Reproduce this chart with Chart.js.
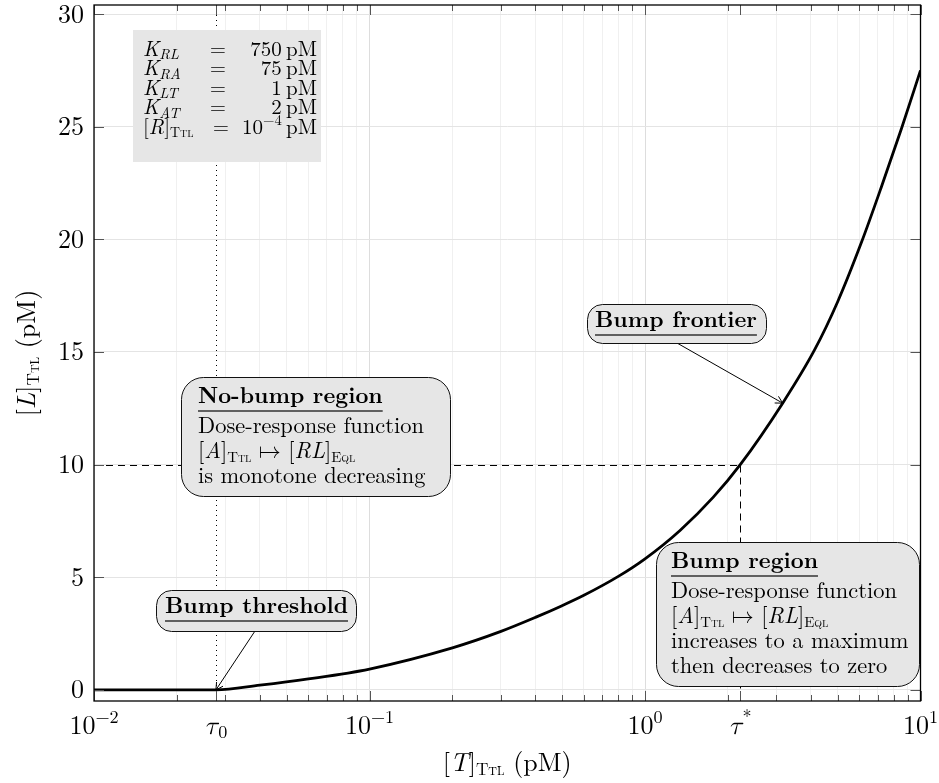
<!DOCTYPE html>
<html>
<head>
<meta charset="utf-8">
<script src="https://cdn.jsdelivr.net/npm/chart.js@4.4.1/dist/chart.umd.min.js"></script>
<style>
  html, body { margin: 0; padding: 0; background: #fff; }
  #wrap { width: 939px; height: 783px; }
</style>
</head>
<body>
<div id="wrap"><canvas id="chart" width="939" height="783"></canvas></div>
<script>
// values
const tValues = [0.01, 0.0277, 0.04, 0.06, 0.1, 0.2, 0.3, 0.4, 0.5, 0.6, 0.8, 1.0, 1.34, 1.77, 2.217, 3.16, 4.12, 5.0, 6.12, 7.2, 8.55, 10];
const lValues = [0, 0, 0.21, 0.49, 0.93, 1.87, 2.6, 3.22, 3.74, 4.2, 5.04, 5.82, 7.08, 8.56, 10, 12.73, 15.08, 17.22, 19.9, 22.3, 24.95, 27.5];

const tau0 = 0.0277;
const tauStar = 2.217;
const lRef = 10;
const frontierPoint = { x: 3.16, y: 12.73 };

const xGrid = [0.01, 0.02, 0.03, 0.04, 0.05, 0.06, 0.07, 0.08, 0.09,
               0.1, 0.2, 0.3, 0.4, 0.5, 0.6, 0.7, 0.8, 0.9,
               1, 2, 3, 4, 5, 6, 7, 8, 9, 10];
const xTickValues = [0.01, tau0, 0.1, 1, tauStar, 10];
const xTickLabels = ['10^\u22122', '\u03c4_0', '10^\u22121', '10^0', '\u03c4^*', '10^1'];
const yTicks = [0, 5, 10, 15, 20, 25, 30];

const paramNames = [['K', 'RL'], ['K', 'RA'], ['K', 'LT'], ['K', 'AT']];
const paramValues = ['750', '75', '1', '2'];

const SERIF = '"Latin Modern Roman", "Latin Modern Math", "Liberation Serif", serif';
const FS_TICK = 26, FS_TEXT = 22.5, FS_PARAM = 21;
let SXN = 1, SXB = 1;

function fontFor(p, fs) {
  const size = (p.sub || p.sup) ? fs * (p.sc ? 0.66 : 0.7) : fs;
  return (p.it ? 'italic ' : '') + (p.sc ? 'small-caps ' : '') + (p.b ? 'bold ' : '') + size.toFixed(1) + 'px ' + SERIF;
}
function richWidth(ctx, parts, fs, sx) {
  let w = 0;
  parts.forEach(p => { ctx.font = fontFor(p, fs); w += ctx.measureText(p.t).width; });
  return w * sx;
}
function drawRich(ctx, x, y, parts, fs, sx, align) {
  const w = richWidth(ctx, parts, fs, sx);
  const x0 = align === 'center' ? x - w / 2 : align === 'right' ? x - w : x;
  ctx.save();
  ctx.translate(x0, y);
  ctx.scale(sx, 1);
  ctx.textAlign = 'left';
  ctx.textBaseline = 'alphabetic';
  ctx.fillStyle = '#000';
  let px = 0;
  parts.forEach(p => {
    ctx.font = fontFor(p, fs);
    const dy = p.sub ? fs * 0.16 : p.sup ? -fs * 0.42 : 0;
    ctx.fillText(p.t, px, dy);
    px += ctx.measureText(p.t).width;
  });
  ctx.restore();
  return w;
}
// '10^-2' / 'tau_0' style label -> parts
function texParts(s) {
  const m = s.match(/^([^_^]+)([_^])(.+)$/);
  if (!m) return [{ t: s }];
  const greek = /[\u0370-\u03ff]/.test(m[1]);
  return [{ t: m[1], it: greek }, { t: m[3], sub: m[2] === '_', sup: m[2] === '^' }];
}
const ttl = { t: 'Ttl', sub: true, sc: true };
const mapsTo = [{ t: '[' }, { t: 'A', it: true }, { t: ']' }, ttl, { t: ' \u21a6 [' }, { t: 'RL', it: true }, { t: ']' }, { t: 'Eql', sub: true, sc: true }];

const notes = [
  { box: [181, 377, 450, 496], r: 22, title: 'No-bump region', tx: 198,
    lines: [[{ t: 'Dose-response function' }], mapsTo, [{ t: 'is monotone decreasing' }]] },
  { box: [656, 542, 919, 686], r: 22, title: 'Bump region', tx: 671,
    lines: [[{ t: 'Dose-response function' }], mapsTo, [{ t: 'increases to a maximum' }], [{ t: 'then decreases to zero' }]] },
  { box: [156, 590, 356, 631], r: 15, title: 'Bump threshold', tx: 165, from: [255, 631], to: { x: tau0, y: 0 } },
  { box: [587, 304, 766, 343], r: 15, title: 'Bump frontier', tx: 595, from: [677, 343], to: frontierPoint }
];

function roundRect(ctx, x0, y0, x1, y1, r) {
  ctx.beginPath();
  ctx.moveTo(x0 + r, y0);
  ctx.lineTo(x1 - r, y0);
  ctx.arcTo(x1, y0, x1, y0 + r, r);
  ctx.lineTo(x1, y1 - r);
  ctx.arcTo(x1, y1, x1 - r, y1, r);
  ctx.lineTo(x0 + r, y1);
  ctx.arcTo(x0, y1, x0, y1 - r, r);
  ctx.lineTo(x0, y0 + r);
  ctx.arcTo(x0, y0, x0 + r, y0, r);
  ctx.closePath();
}
function arrow(ctx, x0, y0, x1, y1) {
  const a = Math.atan2(y1 - y0, x1 - x0), len = 8, sp = 0.5;
  ctx.save();
  ctx.strokeStyle = '#000';
  ctx.lineWidth = 1;
  ctx.beginPath();
  ctx.moveTo(x0, y0); ctx.lineTo(x1, y1);
  ctx.moveTo(x1 - len * Math.cos(a - sp), y1 - len * Math.sin(a - sp));
  ctx.lineTo(x1, y1);
  ctx.lineTo(x1 - len * Math.cos(a + sp), y1 - len * Math.sin(a + sp));
  ctx.stroke();
  ctx.restore();
}
const isDecade = v => Math.abs(Math.log10(v) - Math.round(Math.log10(v))) < 1e-9;

const decor = {
  id: 'decor',
  beforeDatasetsDraw(chart) {
    const { ctx, chartArea: a, scales: { x, y } } = chart;
    ctx.save();
    ctx.strokeStyle = '#000';
    ctx.lineWidth = 1;
    // dotted line at tau0
    ctx.setLineDash([1, 4]);
    const x0 = Math.round(x.getPixelForValue(tau0)) + 0.5;
    ctx.beginPath();
    ctx.moveTo(x0, a.top);
    ctx.lineTo(x0, a.bottom);
    ctx.stroke();
    // dashed guides to (tau*, 10)
    ctx.setLineDash([7, 5]);
    const xs = Math.round(x.getPixelForValue(tauStar)) + 0.5, yr = Math.round(y.getPixelForValue(lRef)) + 0.5;
    ctx.beginPath();
    ctx.moveTo(a.left, yr); ctx.lineTo(xs, yr);
    ctx.moveTo(xs, yr); ctx.lineTo(xs, a.bottom);
    ctx.stroke();
    ctx.restore();
  },
  afterDraw(chart) {
    const { ctx, chartArea: a, scales: { x, y } } = chart;
    ctx.font = FS_TEXT + 'px ' + SERIF;
    SXN = 226 / ctx.measureText('Dose-response function').width;
    ctx.font = 'bold ' + FS_TEXT + 'px ' + SERIF;
    SXB = 183 / ctx.measureText('Bump threshold').width;

    ctx.save();
    // tick marks, pointing inwards
    ctx.strokeStyle = '#555';
    ctx.lineWidth = 1;
    ctx.beginPath();
    xGrid.concat([tau0, tauStar]).forEach(v => {
      const px = Math.round(x.getPixelForValue(v)) + 0.5;
      const len = (isDecade(v) || v === tau0 || v === tauStar) ? 10 : 6;
      ctx.moveTo(px, a.bottom); ctx.lineTo(px, a.bottom - len);
      ctx.moveTo(px, a.top); ctx.lineTo(px, a.top + len);
    });
    yTicks.forEach(v => {
      const py = Math.round(y.getPixelForValue(v)) + 0.5;
      ctx.moveTo(a.left, py); ctx.lineTo(a.left + 10, py);
      ctx.moveTo(a.right, py); ctx.lineTo(a.right - 10, py);
    });
    ctx.stroke();
    // frame
    ctx.strokeStyle = '#000';
    ctx.lineWidth = 1.3;
    ctx.strokeRect(a.left, a.top, a.right - a.left, a.bottom - a.top);
    ctx.restore();

    // tick labels
    xTickValues.forEach((v, i) => {
      drawRich(ctx, x.getPixelForValue(v), a.bottom + 33, texParts(xTickLabels[i]), FS_TICK, 1, 'center');
    });
    yTicks.forEach(v => {
      drawRich(ctx, a.left - 10, y.getPixelForValue(v) + 8.5, [{ t: String(v) }], FS_TICK, 1, 'right');
    });
    // axis titles
    drawRich(ctx, (a.left + a.right) / 2, 771, [{ t: '[' }, { t: 'T', it: true }, { t: ']' }, ttl, { t: ' (pM)' }], FS_TICK, 1, 'center');
    ctx.save();
    ctx.translate(35, (a.top + a.bottom) / 2);
    ctx.rotate(-Math.PI / 2);
    drawRich(ctx, 0, 0, [{ t: '[' }, { t: 'L', it: true }, { t: ']' }, ttl, { t: ' (pM)' }], FS_TICK, 1, 'center');
    ctx.restore();

    // parameter box
    ctx.fillStyle = '#e6e6e6';
    ctx.fillRect(133, 30, 188, 132);
    paramNames.forEach((n, i) => {
      const by = 56 + 19.4 * i;
      drawRich(ctx, 143, by, [{ t: n[0], it: true }, { t: n[1], it: true, sub: true }], FS_PARAM, 1, 'left');
      drawRich(ctx, 218, by, [{ t: '=' }], FS_PARAM, 1, 'center');
      drawRich(ctx, 317, by, [{ t: paramValues[i] + '\u2009pM' }], FS_PARAM, 1, 'right');
    });
    const by5 = 56 + 19.4 * 4;
    drawRich(ctx, 143, by5, [{ t: '[' }, { t: 'R', it: true }, { t: ']' }, ttl], FS_PARAM, 1, 'left');
    drawRich(ctx, 221, by5, [{ t: '=' }], FS_PARAM, 1, 'center');
    drawRich(ctx, 317, by5, [{ t: '10' }, { t: '\u22124', sup: true }, { t: '\u2009pM' }], FS_PARAM, 1, 'right');

    // annotation boxes
    notes.forEach(n => {
      const [x0, y0, x1, y1] = n.box;
      if (n.from) arrow(ctx, n.from[0], n.from[1], x.getPixelForValue(n.to.x), y.getPixelForValue(n.to.y));
      ctx.save();
      roundRect(ctx, x0 + 0.5, y0 + 0.5, x1 + 0.5, y1 + 0.5, n.r);
      ctx.fillStyle = '#e6e6e6';
      ctx.fill();
      ctx.strokeStyle = '#111';
      ctx.lineWidth = 1;
      ctx.stroke();
      ctx.restore();
      const multi = !!n.lines;
      const tb = y0 + (multi ? 26 : 23);
      const w = drawRich(ctx, n.tx, tb, [{ t: n.title, b: true }], FS_TEXT, SXB, 'left');
      ctx.save();
      ctx.strokeStyle = '#333';
      ctx.lineWidth = 1.6;
      ctx.beginPath();
      ctx.moveTo(n.tx, tb + 8); ctx.lineTo(n.tx + w, tb + 8);
      ctx.stroke();
      ctx.restore();
      if (multi) {
        n.lines.forEach((ln, i) => drawRich(ctx, n.tx, y0 + 56 + 25 * i, ln, FS_TEXT, SXN, 'left'));
      }
    });
  }
};

function build() {
  new Chart(document.getElementById('chart'), {
    type: 'line',
    data: {
      datasets: [{
        data: tValues.map((t, i) => ({ x: t, y: lValues[i] })),
        borderColor: '#000',
        borderWidth: 2.8,
        pointRadius: 0,
        fill: false,
        cubicInterpolationMode: 'monotone'
      }]
    },
    options: {
      responsive: false,
      animation: false,
      layout: { padding: { left: 94, right: 18.5, top: 5, bottom: 82 } },
      plugins: { legend: { display: false }, tooltip: { enabled: false } },
      scales: {
        x: {
          type: 'logarithmic',
          min: 0.01,
          max: 10,
          afterBuildTicks: s => { s.ticks = xGrid.map(v => ({ value: v })); },
          afterFit: s => { s.height = 0; },
          ticks: { display: false },
          border: { display: false },
          grid: {
            drawTicks: false,
            color: c => (c.tick && isDecade(c.tick.value)) ? '#dddddd' : '#f0f0f0'
          }
        },
        y: {
          type: 'linear',
          min: -0.49,
          max: 30.4,
          afterBuildTicks: s => { s.ticks = yTicks.map(v => ({ value: v })); },
          afterFit: s => { s.width = 0; },
          ticks: { display: false },
          border: { display: false },
          grid: { drawTicks: false, color: '#e4e4e4' }
        }
      }
    },
    plugins: [decor]
  });
}

Promise.all([
  document.fonts.load('22px "Latin Modern Roman"'),
  document.fonts.load('italic 22px "Latin Modern Roman"'),
  document.fonts.load('bold 22px "Latin Modern Roman"')
]).catch(() => {}).then(build);
</script>
</body>
</html>
